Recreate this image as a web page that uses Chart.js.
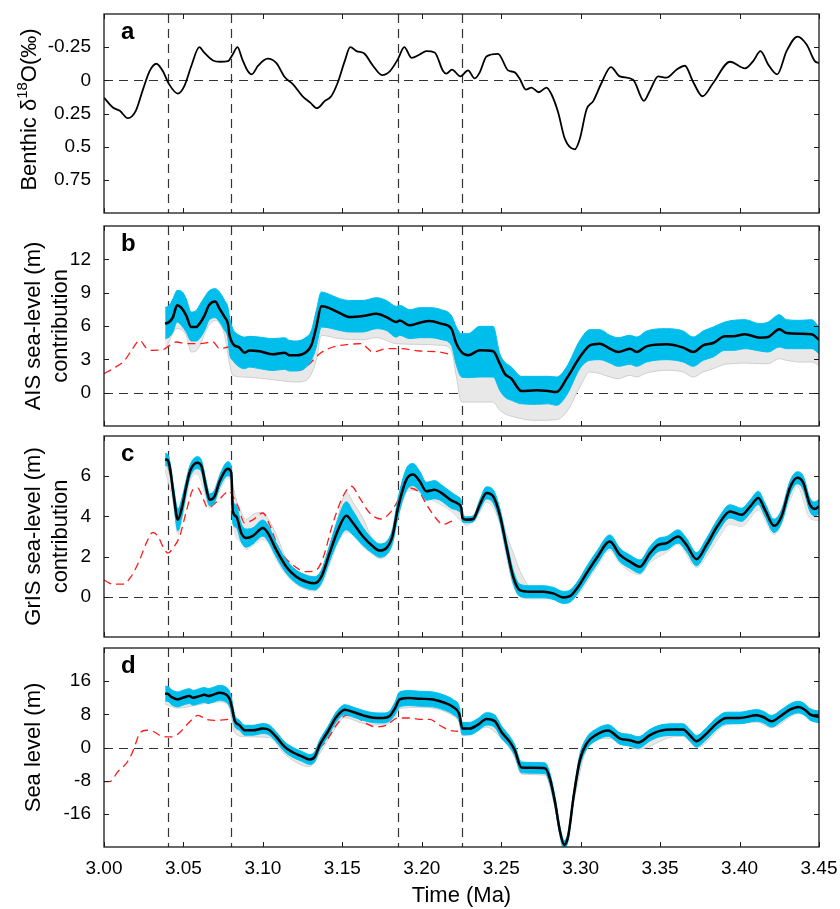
<!DOCTYPE html>
<html>
<head>
<meta charset="utf-8">
<script src="https://cdn.jsdelivr.net/npm/chart.js@4.4.1/dist/chart.umd.min.js"></script>
<style>
  body { margin: 0; background: #fff; }
  #wrap { position: relative; width: 840px; height: 909px; }
  canvas { position: absolute; left: 0; }
</style>
</head>
<body>
<div id="wrap">
  <canvas id="pa" width="840" height="220" style="top:0px"></canvas>
  <canvas id="pb" width="840" height="212" style="top:220px"></canvas>
  <canvas id="pc" width="840" height="211" style="top:432px"></canvas>
  <canvas id="pd" width="840" height="266" style="top:643px"></canvas>
</div>
<script>
const FONT = "'Liberation Sans', Arial, Helvetica, sans-serif";
const BLUE = "rgb(0,190,236)";
const RED = "#ff1a1a";
const GRAY_FILL = "#e8e8e8";
const GRAY_LINE = "#cfcfcf";

// shared axis stuff
const xTicks = [3.0, 3.05, 3.1, 3.15, 3.2, 3.25, 3.3, 3.35, 3.4, 3.45];
const events = [3.04, 3.08, 3.185, 3.225];
const aTicks = [-0.25, 0, 0.25, 0.5, 0.75];
const bTicks = [0, 3, 6, 9, 12];
const cTicks = [0, 2, 4, 6];
const dTicks = [-16, -8, 0, 8, 16];

// a: benthic d18O
const aX = [3.000,3.0056,3.010,3.015,3.020,3.0245,3.0287,3.033,3.037,3.041,3.0465,3.0507,3.055,3.060,3.063,3.0686,3.073,3.078,3.081,3.084,3.087,3.0905,3.093,3.097,3.103,3.1085,3.1137,3.119,3.125,3.130,3.134,3.139,3.143,3.147,3.1515,3.155,3.159,3.164,3.1693,3.175,3.180,3.185,3.189,3.1935,3.1987,3.2029,3.2081,3.2134,3.2155,3.219,3.2243,3.2291,3.2333,3.2365,3.2407,3.248,3.2543,3.2585,3.2617,3.2655,3.269,3.2736,3.2785,3.2816,3.2858,3.290,3.2963,3.2995,3.3037,3.308,3.3131,3.319,3.3246,3.333,3.3398,3.3435,3.3488,3.354,3.3603,3.3656,3.3708,3.3767,3.3834,3.394,3.4034,3.4086,3.4132,3.418,3.4237,3.4296,3.4365,3.4422,3.4474,3.450];
const aY = [0.13,0.205,0.23,0.285,0.23,0.07,-0.07,-0.125,-0.07,0.03,0.1,0.04,-0.11,-0.25,-0.21,-0.15,-0.14,-0.145,-0.195,-0.25,-0.16,-0.07,-0.045,-0.11,-0.163,-0.13,-0.025,0.03,0.12,0.17,0.21,0.155,0.12,0.02,-0.145,-0.25,-0.22,-0.2,-0.11,-0.04,-0.07,-0.16,-0.25,-0.17,-0.195,-0.22,-0.21,-0.07,-0.05,-0.08,-0.03,-0.075,-0.015,-0.06,-0.18,-0.2,-0.075,-0.06,-0.01,0.07,0.055,0.09,0.055,0.105,0.24,0.44,0.52,0.44,0.22,0.155,0.02,-0.1,-0.03,-0.005,0.155,0.08,-0.03,-0.02,-0.08,-0.11,0.0125,0.12,0.02,-0.14,-0.09,-0.145,-0.22,-0.12,-0.045,-0.22,-0.33,-0.27,-0.145,-0.13];

// b: AIS
const bX = [3.0385,3.041,3.0434,3.046,3.0486,3.0517,3.0549,3.058,3.0601,3.0633,3.066,3.070,3.0727,3.0759,3.078,3.079,3.0811,3.0853,3.0885,3.0916,3.0979,3.1064,3.1137,3.1168,3.121,3.1273,3.1305,3.1336,3.1368,3.141,3.1483,3.1546,3.163,3.1714,3.1777,3.184,3.1861,3.1924,3.1987,3.205,3.2124,3.2186,3.2218,3.225,3.2291,3.2365,3.2449,3.2491,3.2522,3.2564,3.2627,3.2722,3.2795,3.2848,3.2911,3.2995,3.3058,3.3121,3.3184,3.3236,3.331,3.3352,3.3415,3.354,3.3645,3.3708,3.3771,3.3834,3.3908,3.396,3.4034,3.4128,3.418,3.425,3.4296,3.438,3.4454,3.45];
const bMid = [6.2,6.36,6.8,7.86,7.65,6.96,5.9,5.9,6.2,6.96,7.86,8.2,7.56,6.8,6.2,5.16,4.4,4.05,3.6,3.8,3.72,3.45,3.6,3.36,3.36,3.66,4.26,5.9,7.77,7.65,7.17,6.8,6.9,7.1,6.8,6.36,6.5,6.06,6.3,6.45,6.2,5.76,4.41,3.66,3.36,3.81,3.72,2.61,1.71,1.26,0.15,0.21,0.15,0.06,1.26,3.21,4.26,4.41,3.96,3.66,3.96,3.66,4.17,4.35,4.05,3.66,4.26,4.47,5.07,5.07,5.25,4.95,5.01,5.7,5.37,5.31,5.25,4.77];
const bUp = [7.65,7.86,8.46,9.2,9.15,8.46,7.26,7.4,7.86,8.6,9.15,9.36,9.06,8.3,7.7,6.8,5.76,5.16,5.0,5.07,5.0,4.86,4.95,4.7,4.65,5.0,5.6,7.4,9.06,8.9,8.46,8.3,8.3,8.55,8.3,7.77,7.86,7.47,7.65,7.65,7.47,6.96,5.9,5.31,5.31,5.97,5.97,3.51,2.76,2.31,1.47,1.47,1.47,1.41,2.31,4.71,5.67,5.67,5.16,4.95,5.16,5.01,5.55,5.76,5.55,5.01,5.55,5.91,6.36,6.51,6.57,6.21,6.36,7.02,6.57,6.51,6.57,5.9];
const bLo = [4.86,5.0,5.46,6.36,6.06,5.46,4.65,4.65,4.86,5.6,6.5,6.75,6.36,5.6,4.86,3.5,2.9,2.3,2.16,2.3,2.16,2.0,2.1,1.95,1.95,2.3,2.9,4.1,5.9,5.85,5.6,5.46,5.46,5.76,5.6,5.0,5.16,4.86,4.95,4.95,4.77,4.26,2.46,1.41,1.35,1.41,1.41,0.21,-0.39,-0.69,-1.0,-1.05,-1.0,-1.14,-0.24,2.16,2.91,2.97,2.67,2.37,2.55,2.37,2.76,2.97,2.76,2.37,2.91,3.21,3.81,3.81,3.96,3.75,3.66,4.11,3.96,3.96,3.96,3.51];
const bGrayX = [3.0385,3.046,3.0517,3.0549,3.058,3.066,3.070,3.0759,3.079,3.0811,3.0885,3.1064,3.121,3.1273,3.1336,3.1368,3.1483,3.163,3.1714,3.184,3.1987,3.2124,3.2186,3.2218,3.225,3.2365,3.2449,3.2491,3.2627,3.2722,3.2848,3.2911,3.2995,3.3058,3.3121,3.3184,3.3236,3.331,3.3352,3.3415,3.354,3.3645,3.3708,3.3771,3.3834,3.3908,3.396,3.4034,3.4128,3.418,3.425,3.4296,3.438,3.4454,3.45];
const bGrayLo = [3.8,5.76,5.16,3.66,3.75,6.06,6.5,5.16,2.61,1.56,1.41,1.17,0.96,1.11,2.91,5.16,4.86,4.77,4.95,4.41,4.35,4.26,3.81,1.41,-0.84,-0.84,-0.84,-1.59,-2.34,-2.49,-2.43,-1.74,0.51,1.86,1.71,1.41,1.26,1.56,1.41,1.77,2.01,1.86,1.41,1.86,2.16,2.55,2.61,2.67,2.61,2.61,3.06,2.91,2.76,2.76,2.46];
const bRedX = [3.000,3.0056,3.013,3.018,3.0224,3.0266,3.0308,3.037,3.0413,3.0455,3.0518,3.0602,3.0686,3.0728,3.079,3.0853,3.098,3.1084,3.1168,3.123,3.1294,3.1357,3.1441,3.1546,3.163,3.165,3.1693,3.1777,3.1861,3.1987,3.2113,3.2197];
const bRedY = [1.71,2.16,2.91,3.96,4.71,4.02,3.81,3.87,4.26,4.56,4.41,4.41,4.56,3.96,4.11,3.96,3.51,2.91,2.16,2.0,2.61,3.51,4.11,4.35,4.41,4.11,3.66,3.96,3.96,3.75,3.66,3.36];

// c: GrIS
const cX = [3.0385,3.040,3.0415,3.0438,3.0465,3.0492,3.0518,3.0543,3.0587,3.0612,3.0643,3.0665,3.0696,3.0728,3.078,3.0801,3.0811,3.0832,3.0864,3.0895,3.0937,3.1,3.1032,3.1084,3.1147,3.121,3.1273,3.1326,3.1368,3.142,3.1473,3.1525,3.1567,3.163,3.1693,3.1735,3.1777,3.1815,3.185,3.1903,3.1945,3.1987,3.2029,3.2081,3.2123,3.2186,3.2228,3.2249,3.2256,3.2281,3.2323,3.2365,3.2407,3.2449,3.2491,3.2533,3.2575,3.2617,3.268,3.2764,3.2827,3.289,3.2932,3.2984,3.3037,3.31,3.3184,3.3247,3.331,3.3373,3.3436,3.3488,3.3541,3.3614,3.3666,3.3729,3.3792,3.3866,3.394,3.4013,3.4065,3.4118,3.416,3.4217,3.4264,3.4317,3.4363,3.4401,3.4443,3.4474,3.45];
const cMid = [6.83,6.8,6.42,5.08,3.83,4.5,5.5,6.28,6.67,6.53,5.42,4.83,5.0,5.75,6.37,6.17,4.25,4.0,3.17,2.92,3.03,3.42,3.17,2.33,1.5,1.0,0.75,0.67,1.0,2.17,3.33,4.03,3.67,3.0,2.5,2.3,2.42,3.0,4.42,5.83,6.08,5.75,5.25,5.33,5.17,4.8,4.63,4.42,3.92,3.83,3.87,4.58,5.17,5.0,4.08,2.5,1.0,0.33,0.25,0.25,0.17,-0.03,0.03,0.5,1.17,1.92,2.75,2.08,1.75,1.5,2.17,2.58,2.67,3.0,2.58,1.87,2.58,3.58,4.25,4.08,4.47,4.92,4.33,3.53,4.0,5.42,5.92,5.67,4.58,4.37,4.5];
const cHalf = [0.3,0.3,0.3,0.4,0.55,0.45,0.35,0.3,0.3,0.3,
  0.35,0.3,0.3,0.3,0.35,0.35,0.6,0.55,0.45,0.45,
  0.4,0.4,0.4,0.35,0.33,0.33,0.33,0.33,0.33,0.4,
  0.55,0.7,0.6,0.45,0.35,0.33,0.33,0.35,0.45,0.55,
  0.55,0.5,0.45,0.45,0.4,0.4,0.35,0.35,0.2,0.15,
  0.15,0.25,0.3,0.33,0.33,0.33,0.33,0.3,0.3,0.3,
  0.3,0.3,0.3,0.3,0.33,0.33,0.33,0.33,0.33,0.33,
  0.33,0.33,0.33,0.33,0.33,0.33,0.33,0.33,0.33,0.33,
  0.33,0.33,0.33,0.33,0.33,0.33,0.3,0.33,0.33,0.35,
  0.35];
const cGrayX = [3.0385,3.0438,3.0465,3.0492,3.0518,3.0543,3.0587,3.0643,3.0665,3.0728,3.078,3.0801,3.0811,3.0864,3.0895,3.0937,3.1,3.1032,3.1084,3.1147,3.1273,3.1326,3.1368,3.142,3.1473,3.1525,3.1567,3.163,3.1693,3.1735,3.1815,3.185,3.1903,3.1945,3.2081,3.2186,3.225,3.2281,3.2365,3.2407,3.2491,3.2533,3.2575,3.2617,3.268,3.2827,3.289,3.2932,3.2984,3.3037,3.31,3.3184,3.3247,3.3373,3.3436,3.3541,3.3614,3.3729,3.3792,3.3866,3.394,3.4013,3.4118,3.4217,3.4317,3.4363,3.4443,3.45];
const cGrayHi = [6.8,5.3,4.1,4.7,5.6,6.4,6.6,5.5,5.0,5.9,6.5,6.3,5.6,4.2,3.85,4.1,4.2,3.9,3.1,1.9,0.85,0.75,1.2,2.5,4.0,5.2,4.7,3.9,2.8,2.5,3.2,4.3,5.9,6.0,5.3,4.8,4.4,3.85,4.5,5.1,4.3,3.1,2.2,1.3,0.5,0.2,0.0,0.0,0.4,1.0,1.8,2.7,2.0,1.45,2.1,2.6,2.95,1.85,2.5,3.4,4.1,3.95,4.8,3.5,5.3,5.8,4.5,4.4];
const cGrayLo = [6.3,4.6,3.1,3.9,4.9,5.8,6.1,4.9,4.4,5.3,5.9,5.6,3.7,2.7,2.35,2.55,2.85,2.7,1.85,1.1,0.35,0.3,0.6,1.6,2.7,3.2,3.1,2.5,2.1,1.9,2.6,3.9,5.2,5.3,4.75,4.25,3.75,3.55,4.2,4.7,3.65,2.0,0.6,0.0,-0.1,-0.1,-0.3,-0.25,0.1,0.7,1.45,2.3,1.65,1.1,1.7,2.2,2.6,1.45,2.0,2.9,3.6,3.5,4.3,3.1,4.8,5.5,3.9,3.8];
const cRedX = [3.000,3.0056,3.0119,3.017,3.0224,3.0266,3.0308,3.034,3.0371,3.0402,3.0434,3.0476,3.0518,3.056,3.059,3.0622,3.0654,3.0707,3.079,3.0811,3.0843,3.0885,3.0937,3.1,3.1042,3.1105,3.1189,3.1273,3.1336,3.1378,3.1441,3.1504,3.1557,3.1609,3.1672,3.1745,3.1808,3.1861,3.1914,3.1987,3.2029,3.208,3.2134,3.2186,3.2222];
const cRedY = [0.83,0.63,0.63,1.0,1.83,2.67,3.2,3.0,2.5,2.17,2.42,3.0,4.25,5.33,5.42,4.92,4.42,4.7,5.25,5.0,4.5,3.67,3.83,4.17,3.58,2.33,1.58,1.25,1.33,1.92,3.67,5.0,5.5,4.92,4.17,3.87,4.25,4.92,5.42,5.17,4.6,4.0,3.6,3.75,3.8];

// d: sea level
const dX = [3.0385,3.040,3.0423,3.0465,3.0496,3.0538,3.056,3.0601,3.0633,3.0655,3.0686,3.0728,3.077,3.079,3.0807,3.0822,3.0853,3.0885,3.0937,3.1,3.1042,3.1084,3.1137,3.119,3.1242,3.1295,3.1326,3.1357,3.141,3.1462,3.1515,3.1567,3.163,3.1693,3.1756,3.1798,3.183,3.1861,3.1924,3.1987,3.207,3.2144,3.2197,3.2235,3.2256,3.2302,3.2354,3.2407,3.246,3.2501,3.2554,3.2585,3.2627,3.2701,3.2775,3.2806,3.2838,3.287,3.2896,3.2921,3.2957,3.2995,3.3037,3.31,3.3173,3.3247,3.331,3.3362,3.3436,3.3499,3.3583,3.3645,3.3687,3.3729,3.3792,3.3855,3.3918,3.4002,3.4107,3.4149,3.4201,3.4264,3.4317,3.437,3.4411,3.4443,3.45];
const dMid = [12.96,12.96,12.2,11.6,12.0,12.4,12.0,12.4,12.7,12.4,12.7,13.2,12.7,11.76,9.36,6.56,5.36,4.16,4.16,4.56,4.16,2.56,0.16,-1.2,-2.08,-2.88,-2.24,0.56,3.92,7.36,9.12,8.56,7.76,7.2,7.12,7.6,9.36,11.6,11.92,11.76,11.6,10.8,9.76,8.16,4.56,4.56,5.52,6.9,6.32,3.76,1.36,-0.64,-4.8,-4.9,-5.0,-7.44,-13.04,-20.24,-23.44,-21.44,-11.44,-3.04,0.96,3.12,4.1,2.16,1.76,1.2,2.96,4.0,4.32,4.32,2.96,1.52,3.36,5.76,7.12,7.12,7.76,7.36,6.32,7.76,9.12,9.76,9.12,8.0,7.36];
const dHalf = [1.8,1.8,1.8,1.8,1.8,1.8,1.8,1.8,1.8,1.8,
  1.8,1.8,1.8,1.8,1.6,1.4,1.2,1.2,1.2,1.2,
  1.2,1.2,1.2,1.2,1.2,1.2,1.2,1.2,1.2,1.2,
  1.2,1.2,1.2,1.2,1.2,1.2,1.5,1.8,1.8,1.8,
  1.8,1.8,1.8,1.8,1.5,1.5,1.5,1.5,1.5,1.5,
  1.3,1.3,1.3,1.3,1.3,1.3,1.3,1.0,1.0,1.0,
  1.0,1.4,1.4,1.4,1.4,1.4,1.4,1.4,1.4,1.4,
  1.4,1.4,1.4,1.4,1.4,1.4,1.4,1.4,1.4,1.4,
  1.4,1.4,1.4,1.4,1.4,1.4,1.4];
const dGrayX = [3.0385,3.0465,3.0601,3.0728,3.079,3.0822,3.0885,3.1042,3.1137,3.1295,3.1357,3.1462,3.1515,3.163,3.1756,3.183,3.1861,3.1987,3.2197,3.2235,3.2256,3.2407,3.2501,3.2585,3.2627,3.2775,3.2838,3.2896,3.2957,3.3037,3.3173,3.3362,3.3583,3.3645,3.3729,3.3918,3.4107,3.4201,3.437,3.45];
const dGrayLo = [10.5,9.5,10.4,11.0,9.6,3.6,2.6,2.4,-1.6,-4.6,-1.5,5.0,7.2,5.8,5.4,7.2,9.4,9.7,7.6,6.0,2.8,4.9,2.1,-2.3,-6.4,-6.7,-14.5,-25.0,-13.0,-0.6,2.2,-0.4,2.6,2.7,0.0,5.5,6.1,4.8,8.2,5.9];
const dRedX = [3.000,3.0036,3.0087,3.014,3.0171,3.0192,3.0224,3.0266,3.0308,3.035,3.0392,3.0434,3.0476,3.0518,3.056,3.0591,3.0643,3.0707,3.079,3.0853,3.0937,3.1,3.1084,3.119,3.1295,3.1357,3.141,3.1462,3.1525,3.1588,3.1651,3.1714,3.1777,3.185,3.1924,3.1987,3.205,3.2113,3.2176,3.2228];
const dRedY = [-8.24,-8.24,-5.84,-3.84,-1.84,0.16,3.36,4.16,3.92,2.96,2.56,2.56,3.6,5.36,6.96,7.76,6.8,6.56,6.8,5.36,4.2,4.4,2.4,-1.4,-2.8,-0.2,2.2,5.4,7.76,7.36,5.76,4.96,5.36,7.12,7.12,6.8,6.8,5.36,4.16,3.92];

Chart.defaults.font.family = FONT;
Chart.defaults.color = "#000";

function pts(xs, ys) {
  return xs.map((x, i) => ({ x: x, y: ys[i] }));
}

// dashed guides under the data, frame + inward ticks + panel letter on top
const panelDecor = {
  id: "panelDecor",
  beforeDatasetsDraw(chart, args, opts) {
    const { ctx, chartArea: a, scales } = chart;
    ctx.save();
    ctx.beginPath();
    ctx.rect(a.left, a.top, a.right - a.left, a.bottom - a.top);
    ctx.clip();
    ctx.strokeStyle = "#333";
    ctx.lineWidth = 1.2;
    ctx.setLineDash([9, 6]);
    const y0 = Math.round(scales.y.getPixelForValue(0)) + 0.5;
    ctx.beginPath();
    ctx.moveTo(a.left, y0);
    ctx.lineTo(a.right, y0);
    ctx.stroke();
    events.forEach((v) => {
      const px = Math.round(scales.x.getPixelForValue(v)) + 0.5;
      ctx.beginPath();
      ctx.moveTo(px, a.top);
      ctx.lineTo(px, a.bottom);
      ctx.stroke();
    });
    ctx.restore();
  },
  afterDraw(chart, args, opts) {
    const { ctx, chartArea: a, scales } = chart;
    ctx.save();
    ctx.strokeStyle = "#1a1a1a";
    ctx.lineWidth = 1.3;
    ctx.strokeRect(a.left, a.top, a.right - a.left, a.bottom - a.top);
    ctx.lineWidth = 1;
    const t = 5;
    ctx.beginPath();
    xTicks.forEach((v) => {
      const px = Math.round(scales.x.getPixelForValue(v)) + 0.5;
      ctx.moveTo(px, a.bottom);
      ctx.lineTo(px, a.bottom - t);
      ctx.moveTo(px, a.top);
      ctx.lineTo(px, a.top + t);
    });
    opts.yTicks.forEach((v) => {
      const py = Math.round(scales.y.getPixelForValue(v)) + 0.5;
      ctx.moveTo(a.left, py);
      ctx.lineTo(a.left + t, py);
      ctx.moveTo(a.right, py);
      ctx.lineTo(a.right - t, py);
    });
    ctx.stroke();
    ctx.fillStyle = "#000";
    ctx.font = "bold 24px " + FONT;
    ctx.textBaseline = "alphabetic";
    ctx.textAlign = "left";
    ctx.fillText(opts.letter, a.left + 17, a.top + 24.5);
    ctx.restore();
  },
};

// panel a title has a superscript, so it is drawn by hand
const benthicTitle = {
  id: "benthicTitle",
  afterDraw(chart) {
    const { ctx, chartArea: a } = chart;
    const big = "22px " + FONT;
    const small = "15px " + FONT;
    ctx.save();
    ctx.translate(30, (a.top + a.bottom) / 2 - 4);
    ctx.rotate(-Math.PI / 2);
    ctx.fillStyle = "#000";
    ctx.textBaseline = "middle";
    ctx.textAlign = "left";
    ctx.font = big;
    const w1 = ctx.measureText("Benthic \u03b4").width;
    const w3 = ctx.measureText("O(\u2030)").width;
    ctx.font = small;
    const w2 = ctx.measureText("18").width;
    let x = -(w1 + w2 + w3) / 2;
    ctx.font = big;
    ctx.fillText("Benthic \u03b4", x, 0);
    x += w1;
    ctx.font = small;
    ctx.fillText("18", x, -7);
    x += w2;
    ctx.font = big;
    ctx.fillText("O(\u2030)", x, 0);
    ctx.restore();
  },
};

function yScale(min, max, ticks, title, reverse) {
  return {
    type: "linear",
    position: "left",
    min: min,
    max: max,
    reverse: !!reverse,
    grid: { display: false, drawTicks: false },
    border: { display: false },
    afterBuildTicks: (s) => {
      s.ticks = ticks.map((v) => ({ value: v }));
    },
    afterFit: (s) => {
      // fixed gutter, and no extra room for half labels at the ends
      s.width = 104;
      s.paddingTop = 0;
      s.paddingBottom = 0;
    },
    ticks: { font: { size: 19 }, padding: 13, color: "#000", callback: (v) => String(v) },
    title: title
      ? { display: true, text: title, color: "#000", font: { size: 22, lineHeight: 1.23 }, padding: { top: 20, bottom: 0 } }
      : { display: false },
  };
}

function xScale(show) {
  const s = {
    type: "linear",
    min: 3.0,
    max: 3.45,
    display: show,
    grid: { display: false, drawTicks: false },
    border: { display: false },
    afterBuildTicks: (sc) => {
      sc.ticks = xTicks.map((v) => ({ value: v }));
    },
    ticks: { font: { size: 19 }, padding: 10, color: "#000", maxRotation: 0, autoSkip: false, callback: (v) => v.toFixed(2) },
  };
  if (show) {
    s.afterFit = (sc) => {
      sc.height = 62;
      sc.paddingLeft = 0;
      sc.paddingRight = 0;
    };
    s.title = { display: true, text: "Time (Ma)", color: "#000", font: { size: 22 }, padding: { top: 0, bottom: 0 } };
  }
  return s;
}

function makeChart(id, pad, datasets, y, xShow, decor, extra) {
  return new Chart(document.getElementById(id), {
    type: "line",
    data: { datasets: datasets },
    options: {
      responsive: false,
      animation: false,
      devicePixelRatio: 1,
      events: [],
      layout: { padding: { left: 0, right: 21, top: pad[0], bottom: pad[1] } },
      elements: { point: { radius: 0, hoverRadius: 0 } },
      plugins: { legend: { display: false }, tooltip: { enabled: false }, panelDecor: decor },
      scales: { x: xScale(xShow), y: y },
    },
    plugins: [panelDecor].concat(extra || []),
  });
}

function midLine(data) {
  return { data: data, borderColor: "#000", borderWidth: 2.5, fill: false, cubicInterpolationMode: "monotone", order: 1 };
}
function bandEdge(data, fillTarget) {
  return {
    data: data,
    borderColor: BLUE,
    borderWidth: 1,
    backgroundColor: BLUE,
    fill: fillTarget === undefined ? false : { target: fillTarget },
    cubicInterpolationMode: "monotone",
    order: 2,
  };
}
function redLine(data) {
  return { data: data, borderColor: RED, borderWidth: 1.3, borderDash: [8, 5], fill: false, cubicInterpolationMode: "monotone", order: 3 };
}
function grayLine(data, fillTarget) {
  return {
    data: data,
    borderColor: GRAY_LINE,
    borderWidth: 1,
    backgroundColor: GRAY_FILL,
    fill: fillTarget === undefined ? false : { target: fillTarget },
    cubicInterpolationMode: "monotone",
    order: 4,
  };
}

// a
makeChart(
  "pa",
  [14, 7],
  [{ data: pts(aX, aY), borderColor: "#000", borderWidth: 1.8, fill: false, cubicInterpolationMode: "monotone" }],
  yScale(-0.5, 1.0, aTicks, null, true),
  false,
  { letter: "a", yTicks: aTicks },
  [benthicTitle]
);

// b
makeChart(
  "pb",
  [6, 6],
  [
    midLine(pts(bX, bMid)),
    bandEdge(pts(bX, bUp), 2),
    bandEdge(pts(bX, bLo)),
    redLine(pts(bRedX, bRedY)),
    grayLine(pts(bGrayX, bGrayLo), 2),
  ],
  yScale(-3, 15, bTicks, ["AIS sea-level (m)", "contribution"]),
  false,
  { letter: "b", yTicks: bTicks }
);

// c
const cUp = cMid.map((v, i) => v + cHalf[i]);
const cLo = cMid.map((v, i) => v - cHalf[i]);
makeChart(
  "pc",
  [4, 6],
  [
    midLine(pts(cX, cMid)),
    bandEdge(pts(cX, cUp), 2),
    bandEdge(pts(cX, cLo)),
    redLine(pts(cRedX, cRedY)),
    grayLine(pts(cGrayX, cGrayHi), 5),
    grayLine(pts(cGrayX, cGrayLo)),
  ],
  yScale(-2, 8, cTicks, ["GrIS sea-level (m)", "contribution"]),
  false,
  { letter: "c", yTicks: cTicks }
);

// d
const dUp = dMid.map((v, i) => v + dHalf[i]);
const dLo = dMid.map((v, i) => v - dHalf[i]);
makeChart(
  "pd",
  [5, 0],
  [
    midLine(pts(dX, dMid)),
    bandEdge(pts(dX, dUp), 2),
    bandEdge(pts(dX, dLo)),
    redLine(pts(dRedX, dRedY)),
    grayLine(pts(dGrayX, dGrayLo), 2),
  ],
  yScale(-24, 24, dTicks, "Sea level (m)"),
  true,
  { letter: "d", yTicks: dTicks }
);
</script>
</body>
</html>
